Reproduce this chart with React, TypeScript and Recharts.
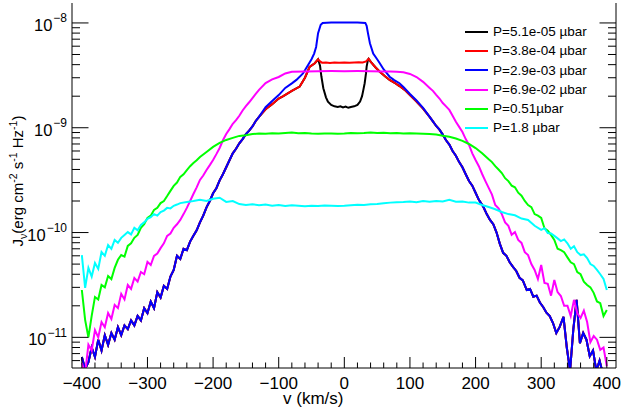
import React from 'react';
import { LineChart, Line, XAxis, YAxis, Legend } from 'recharts';

const FONT = '"Liberation Sans", Arial, Helvetica, sans-serif';

// ---- tick positions / labels ----
const xTicks = [-400, -380, -360, -340, -320, -300, -280, -260, -240, -220, -200, -180, -160, -140, -120, -100, -80, -60, -40, -20, 0, 20, 40, 60, 80, 100, 120, 140, 160, 180, 200, 220, 240, 260, 280, 300, 320, 340, 360, 380, 400];
const xMajor = [-400, -300, -200, -100, 0, 100, 200, 300, 400];
const xMajorText = ['\u2212400', '\u2212300', '\u2212200', '\u2212100', '0', '100', '200', '300', '400'];

const yTicks = [6e-12, 7e-12, 8e-12, 9e-12, 1e-11, 2e-11, 3e-11, 4e-11, 5e-11, 6e-11, 7e-11, 8e-11, 9e-11, 1e-10, 2e-10, 3e-10, 4e-10, 5e-10, 6e-10, 7e-10, 8e-10, 9e-10, 1e-9, 2e-9, 3e-9, 4e-9, 5e-9, 6e-9, 7e-9, 8e-9, 9e-9, 1e-8];
const yMajor = [1e-11, 1e-10, 1e-9, 1e-8];
const yMajorExp = ['\u221211', '\u221210', '\u22129', '\u22128'];

const seriesNames = ['P=5.1e-05 \u00b5bar', 'P=3.8e-04 \u00b5bar', 'P=2.9e-03 \u00b5bar', 'P=6.9e-02 \u00b5bar', 'P=0.51\u00b5bar', 'P=1.8 \u00b5bar'];
const seriesColors = ['#000000', '#ff0000', '#0000ff', '#ff00ff', '#00ff00', '#00ffff'];

// ---- data: [v (km/s), J] ----
// wings shared by the three lowest-pressure curves (they overlap)
const wingLeft: [number, number][] = [
  [-400, 6.5e-12], [-395, 5.0e-12], [-390, 5.8e-12], [-385, 8.0e-12], [-380, 6.5e-12], [-375, 9.5e-12], [-370, 7.5e-12], [-365, 1.05e-11], [-360, 8.5e-12], [-355, 1.1e-11],
  [-350, 9.5e-12], [-345, 1.25e-11], [-340, 1.05e-11], [-335, 1.3e-11], [-330, 1.2e-11], [-325, 1.45e-11], [-320, 1.3e-11], [-315, 1.6e-11], [-310, 1.45e-11], [-305, 1.9e-11],
  [-300, 1.7e-11], [-295, 2.2e-11], [-290, 1.9e-11], [-285, 2.7e-11], [-280, 2.4e-11], [-275, 3.1e-11], [-270, 2.9e-11], [-265, 3.8e-11], [-260, 4.4e-11], [-255, 6.0e-11],
  [-250, 5.6e-11], [-245, 7.0e-11], [-240, 6.8e-11], [-235, 8.2e-11], [-230, 9.3e-11], [-225, 1.05e-10], [-220, 1.25e-10], [-215, 1.45e-10], [-210, 1.74e-10], [-205, 2.0e-10],
  [-200, 2.37e-10], [-195, 2.65e-10], [-190, 3.15e-10], [-185, 3.6e-10], [-180, 4.2e-10], [-175, 4.9e-10], [-170, 5.7e-10], [-165, 6.3e-10], [-160, 7.1e-10], [-155, 7.8e-10],
  [-150, 8.7e-10], [-145, 9.4e-10], [-140, 1.03e-9], [-135, 1.16e-9], [-130, 1.27e-9],
];
const wingRight: [number, number][] = [
  [130, 1.27e-9], [135, 1.15e-9], [140, 1.04e-9], [145, 9.6e-10], [150, 8.6e-10], [155, 7.6e-10], [160, 6.9e-10], [165, 6.0e-10], [170, 5.4e-10], [175, 4.7e-10],
  [180, 4.2e-10], [185, 3.6e-10], [190, 3.1e-10], [195, 2.8e-10], [200, 2.4e-10], [205, 2.05e-10], [212, 1.75e-10], [217, 1.5e-10], [222, 1.32e-10], [227, 1.2e-10],
  [232, 1.0e-10], [237, 7.8e-11], [242, 6.4e-11], [247, 6.0e-11], [252, 5.2e-11], [257, 4.7e-11], [262, 4.3e-11], [267, 3.7e-11], [272, 3.5e-11], [278, 2.83e-11],
  [283, 2.9e-11], [288, 2.44e-11], [293, 2.5e-11], [298, 2.15e-11], [303, 1.95e-11], [308, 1.72e-11], [313, 1.6e-11], [318, 1.37e-11], [323, 1.1e-11], [328, 1.25e-11],
  [334, 1.57e-11], [339, 8.0e-12], [344, 4.8e-12], [349, 1.2e-11], [354, 2.28e-11], [359, 8.8e-12], [364, 1.1e-11], [369, 9.5e-12], [374, 6.6e-12], [379, 7.5e-12],
  [384, 4.8e-12], [389, 6.0e-12], [394, 4.5e-12], [400, 5.0e-12],
];

const blackCore: [number, number][] = [
  [-120, 1.5e-9], [-110, 1.68e-9], [-100, 1.9e-9], [-93, 2.0e-9], [-80, 2.25e-9], [-68, 2.47e-9], [-60, 3.0e-9], [-53, 3.8e-9], [-45, 4.13e-9], [-40, 4.5e-9],
  [-37, 3.9e-9], [-35, 3.1e-9], [-32, 2.38e-9], [-28, 1.95e-9], [-25, 1.77e-9], [-20, 1.65e-9], [-15, 1.6e-9], [-10, 1.58e-9], [-6, 1.6e-9], [-2, 1.56e-9],
  [2, 1.59e-9], [6, 1.55e-9], [10, 1.58e-9], [15, 1.6e-9], [20, 1.65e-9], [24, 1.78e-9], [27, 2.0e-9], [29, 2.3e-9], [31, 2.66e-9], [33, 3.3e-9],
  [34, 3.83e-9], [36, 4.44e-9], [37, 4.55e-9], [40, 4.27e-9], [47, 3.8e-9], [54, 3.43e-9], [62, 3.1e-9], [69, 2.86e-9], [76, 2.7e-9], [84, 2.5e-9],
  [92, 2.3e-9], [100, 2.05e-9], [110, 1.78e-9], [120, 1.52e-9],
];
const redCore: [number, number][] = [
  [-120, 1.5e-9], [-110, 1.68e-9], [-100, 1.9e-9], [-93, 2.0e-9], [-80, 2.25e-9], [-68, 2.47e-9], [-60, 3.0e-9], [-53, 3.8e-9], [-45, 4.13e-9], [-40, 4.5e-9],
  [-37, 4.3e-9], [-34, 4.18e-9], [-28, 4.2e-9], [-22, 4.15e-9], [-15, 4.2e-9], [-8, 4.17e-9], [0, 4.2e-9], [8, 4.16e-9], [15, 4.2e-9], [22, 4.22e-9],
  [28, 4.2e-9], [33, 4.3e-9], [37, 4.55e-9], [40, 4.27e-9], [47, 3.8e-9], [54, 3.43e-9], [62, 3.1e-9], [69, 2.86e-9], [76, 2.7e-9], [84, 2.5e-9],
  [92, 2.3e-9], [100, 2.05e-9], [110, 1.78e-9], [120, 1.52e-9],
];
const blueCore: [number, number][] = [
  [-120, 1.57e-9], [-110, 1.8e-9], [-100, 2.05e-9], [-90, 2.4e-9], [-80, 2.65e-9], [-73, 2.86e-9], [-63, 3.3e-9], [-55, 4.0e-9], [-50, 4.5e-9], [-46, 5.1e-9],
  [-43, 5.9e-9], [-40, 8.0e-9], [-36, 9.6e-9], [-33, 1.0e-8], [-20, 1.01e-8], [0, 1.01e-8], [20, 1.01e-8], [32, 1.0e-8], [34, 9.4e-9], [36, 8.0e-9],
  [39, 6.4e-9], [44, 5.1e-9], [50, 4.5e-9], [54, 4.13e-9], [60, 3.6e-9], [69, 3.07e-9], [76, 2.85e-9], [84, 2.66e-9], [90, 2.45e-9], [100, 2.1e-9],
  [110, 1.82e-9], [120, 1.55e-9],
];

const magenta: [number, number][] = [
  [-400, 5.7e-12], [-395, 4.5e-12], [-390, 8.5e-12], [-385, 7.5e-12], [-380, 1.17e-11], [-375, 1.0e-11], [-370, 1.4e-11], [-365, 1.25e-11], [-360, 1.71e-11], [-355, 1.5e-11],
  [-350, 2.04e-11], [-345, 1.9e-11], [-340, 2.6e-11], [-335, 2.3e-11], [-330, 3.16e-11], [-325, 2.9e-11], [-320, 3.69e-11], [-315, 3.4e-11], [-310, 4.2e-11], [-305, 4.0e-11],
  [-300, 5.25e-11], [-295, 4.9e-11], [-290, 5.98e-11], [-285, 6.3e-11], [-280, 7.1e-11], [-275, 7.9e-11], [-270, 9.3e-11], [-265, 9.8e-11], [-260, 1.11e-10], [-255, 1.2e-10],
  [-250, 1.32e-10], [-245, 1.5e-10], [-240, 1.72e-10], [-235, 2.0e-10], [-230, 2.33e-10], [-225, 2.7e-10], [-220, 3.18e-10], [-215, 3.5e-10], [-210, 3.95e-10], [-205, 4.4e-10],
  [-200, 4.93e-10], [-195, 5.6e-10], [-190, 6.41e-10], [-185, 7.6e-10], [-180, 8.73e-10], [-175, 9.7e-10], [-170, 1.09e-9], [-165, 1.18e-9], [-160, 1.3e-9], [-155, 1.46e-9],
  [-150, 1.61e-9], [-145, 1.75e-9], [-140, 1.92e-9], [-135, 2.1e-9], [-130, 2.3e-9], [-120, 2.67e-9], [-110, 2.9e-9], [-100, 3.05e-9], [-90, 3.3e-9],
  [-80, 3.42e-9], [-60, 3.44e-9], [-40, 3.46e-9], [-20, 3.47e-9], [0, 3.46e-9], [20, 3.47e-9], [40, 3.46e-9], [60, 3.45e-9], [70, 3.44e-9], [80, 3.43e-9],
  [90, 3.38e-9], [100, 3.26e-9], [110, 3.05e-9], [120, 2.74e-9], [130, 2.4e-9], [135, 2.25e-9], [140, 2.06e-9], [145, 1.9e-9], [150, 1.72e-9], [155, 1.6e-9],
  [160, 1.48e-9], [165, 1.3e-9], [170, 1.14e-9], [175, 1.02e-9], [180, 9.1e-10], [185, 7.8e-10], [190, 6.86e-10], [195, 5.7e-10], [200, 4.93e-10], [205, 4.3e-10],
  [210, 3.62e-10], [215, 3.1e-10], [220, 2.67e-10], [225, 2.3e-10], [230, 1.83e-10], [235, 1.7e-10], [240, 1.5e-10], [245, 1.25e-10], [250, 1.16e-10],
  [255, 9.5e-11], [260, 1.01e-10], [265, 8.5e-11], [270, 7.96e-11], [275, 6.5e-11], [280, 6.1e-11], [285, 5.0e-11], [290, 4.4e-11], [295, 3.6e-11], [300, 4.9e-11],
  [305, 3.3e-11], [310, 3.24e-11], [315, 2.5e-11], [320, 3.53e-11], [325, 2.7e-11], [330, 2.48e-11], [335, 2.0e-11], [340, 2.0e-11], [345, 1.6e-11], [350, 2.28e-11],
  [355, 1.7e-11], [360, 1.53e-11], [365, 1.8e-11], [370, 1.4e-11], [375, 9.0e-12], [380, 1.03e-11], [385, 9.5e-12], [390, 7.6e-12], [395, 8.0e-12], [400, 5.3e-12],
];

const green: [number, number][] = [
  [-400, 2.83e-11], [-395, 1.47e-11], [-390, 1.0e-11], [-385, 1.6e-11], [-380, 2.43e-11], [-375, 2.3e-11], [-370, 3.16e-11], [-365, 3.0e-11], [-360, 3.85e-11], [-355, 3.6e-11],
  [-350, 4.6e-11], [-345, 5.5e-11], [-340, 6.1e-11], [-335, 5.9e-11], [-330, 7.45e-11], [-325, 7.9e-11], [-320, 8.9e-11], [-315, 9.5e-11], [-310, 1.11e-10], [-305, 1.2e-10],
  [-300, 1.38e-10], [-295, 1.45e-10], [-290, 1.64e-10], [-285, 1.72e-10], [-280, 1.91e-10], [-275, 2.0e-10], [-270, 2.23e-10], [-265, 2.5e-10], [-260, 2.79e-10], [-255, 3.0e-10],
  [-250, 3.4e-10], [-245, 3.6e-10], [-240, 3.95e-10], [-235, 4.3e-10], [-230, 4.61e-10], [-225, 4.9e-10], [-220, 5.26e-10], [-210, 5.87e-10], [-200, 6.56e-10], [-190, 7.16e-10],
  [-180, 7.65e-10], [-170, 8.0e-10], [-160, 8.36e-10], [-150, 8.5e-10], [-140, 8.7e-10], [-130, 8.8e-10],
  [-120, 8.75e-10], [-110, 8.85e-10], [-100, 8.8e-10], [-90, 8.9e-10], [-80, 9.0e-10], [-70, 8.85e-10], [-60, 8.9e-10], [-50, 8.8e-10], [-40, 8.75e-10], [-30, 8.8e-10],
  [-20, 8.8e-10], [-10, 8.75e-10], [0, 8.8e-10], [10, 8.9e-10], [20, 8.85e-10], [30, 8.9e-10], [40, 9.0e-10], [50, 8.9e-10], [60, 8.95e-10], [70, 8.85e-10],
  [80, 8.9e-10], [90, 8.8e-10], [100, 8.85e-10], [110, 8.8e-10], [120, 8.75e-10], [130, 8.7e-10], [140, 8.6e-10], [150, 8.4e-10], [160, 8.2e-10], [170, 7.9e-10],
  [180, 7.5e-10], [190, 7.0e-10], [200, 6.4e-10], [210, 5.7e-10], [220, 5.0e-10], [225, 4.7e-10], [230, 4.3e-10], [235, 4.0e-10], [240, 3.7e-10], [245, 3.3e-10],
  [250, 3.1e-10], [255, 2.8e-10], [260, 2.7e-10], [265, 2.4e-10], [270, 2.25e-10],
  [275, 2.0e-10], [280, 1.83e-10], [285, 1.75e-10], [290, 1.5e-10], [295, 1.45e-10], [300, 1.38e-10], [305, 1.1e-10], [310, 1.04e-10], [315, 9.5e-11], [320, 8.5e-11],
  [325, 7.0e-11], [330, 6.8e-11], [335, 6.5e-11], [340, 5.8e-11], [345, 5.2e-11], [350, 5.0e-11], [355, 4.2e-11], [360, 4.0e-11], [365, 3.4e-11], [370, 3.16e-11],
  [375, 3.0e-11], [380, 2.66e-11], [385, 2.2e-11], [390, 2.12e-11], [395, 1.6e-11], [400, 1.82e-11],
];

const cyan: [number, number][] = [
  [-400, 6.1e-11], [-395, 2.96e-11], [-390, 4.6e-11], [-385, 3.8e-11], [-380, 5.13e-11], [-375, 4.5e-11], [-370, 6.53e-11], [-365, 6.0e-11], [-360, 7.6e-11], [-355, 7.0e-11],
  [-350, 8.5e-11], [-345, 8.0e-11], [-340, 8.9e-11], [-335, 9.5e-11], [-330, 1.01e-10], [-325, 9.6e-11], [-320, 1.11e-10], [-315, 1.05e-10], [-310, 1.18e-10], [-305, 1.25e-10],
  [-300, 1.35e-10], [-295, 1.4e-10], [-290, 1.5e-10], [-285, 1.45e-10], [-280, 1.57e-10], [-275, 1.62e-10], [-270, 1.72e-10], [-265, 1.7e-10], [-260, 1.8e-10], [-255, 1.85e-10],
  [-250, 1.91e-10], [-240, 1.96e-10], [-230, 2.0e-10],
  [-220, 2.05e-10], [-210, 2.0e-10], [-200, 2.1e-10], [-190, 2.15e-10], [-180, 1.96e-10], [-170, 2.0e-10], [-160, 1.87e-10], [-150, 1.83e-10], [-140, 1.86e-10], [-130, 1.82e-10],
  [-120, 1.85e-10], [-110, 1.8e-10], [-100, 1.83e-10], [-90, 1.79e-10], [-80, 1.82e-10], [-70, 1.8e-10], [-60, 1.78e-10], [-50, 1.8e-10], [-40, 1.79e-10], [-30, 1.81e-10],
  [-20, 1.8e-10], [-10, 1.79e-10], [0, 1.8e-10], [10, 1.82e-10], [20, 1.84e-10], [30, 1.83e-10], [40, 1.86e-10], [50, 1.87e-10], [60, 1.9e-10], [70, 1.93e-10],
  [80, 1.95e-10], [90, 1.96e-10], [100, 1.98e-10], [110, 1.95e-10], [120, 2.0e-10], [130, 1.97e-10], [140, 2.0e-10], [150, 1.98e-10], [160, 2.05e-10], [170, 1.97e-10],
  [180, 1.98e-10], [190, 1.93e-10], [200, 1.93e-10], [210, 1.83e-10], [220, 1.75e-10], [230, 1.67e-10], [240, 1.57e-10], [250, 1.5e-10], [260, 1.46e-10], [270, 1.36e-10],
  [280, 1.32e-10], [290, 1.16e-10], [300, 1.06e-10], [305, 1.1e-10], [310, 9.9e-11], [315, 9.8e-11], [320, 9.3e-11], [325, 8.8e-11], [330, 8.3e-11], [335, 8.6e-11],
  [340, 7.9e-11], [345, 7.0e-11], [350, 7.4e-11], [355, 6.5e-11], [360, 6.1e-11], [365, 6.2e-11], [370, 5.7e-11], [375, 5.0e-11], [380, 4.8e-11], [385, 4.4e-11],
  [390, 4.0e-11], [395, 3.6e-11], [400, 2.83e-11],
];

const toRows = (pts: [number, number][]) => pts.map(([v, j]) => ({ v, j }));

const seriesData = [
  toRows([...wingLeft, ...blackCore, ...wingRight]),
  toRows([...wingLeft, ...redCore, ...wingRight]),
  toRows([...wingLeft, ...blueCore, ...wingRight]),
  toRows(magenta),
  toRows(green),
  toRows(cyan),
];

const X_DOMAIN: [number, number] = [-415, 414];
const Y_DOMAIN: [number, number] = [5.1e-12, 1.55e-8];

const XTick = (p: any) => {
  const { x, y, payload } = p;
  const idx = xMajor.indexOf(payload.value);
  const len = idx >= 0 ? 11 : 5.5;
  return (
    <g>
      <line x1={x} x2={x} y1={y} y2={y - len} stroke="#000" strokeWidth={1} />
      {idx >= 0 && (
        <text x={x} y={y + 21} textAnchor="middle" fontFamily={FONT} fontSize={17} fill="#000">
          {xMajorText[idx]}
        </text>
      )}
    </g>
  );
};

const YTickLeft = (p: any) => {
  const { x, y, payload } = p;
  const idx = yMajor.indexOf(payload.value);
  const len = idx >= 0 ? 16.5 : 8;
  return (
    <g>
      <line x1={x} x2={x + len} y1={y} y2={y} stroke="#000" strokeWidth={1} />
      {idx >= 0 && (
        <text x={x - 5} y={y + 8} textAnchor="end" fontFamily={FONT} fontSize={16.5} fill="#000">
          10
          <tspan dx={1} dy={-8.5} fontSize={12}>{yMajorExp[idx]}</tspan>
        </text>
      )}
    </g>
  );
};

const YTickRight = (p: any) => {
  const { x, y, payload } = p;
  const idx = yMajor.indexOf(payload.value);
  const len = idx >= 0 ? 16.5 : 8;
  return <line x1={x} x2={x - len} y1={y} y2={y} stroke="#000" strokeWidth={1} />;
};

const LegendBox = (props: any) => {
  const items = seriesNames
    .map((n) => (props.payload || []).find((e: any) => e.value === n))
    .filter(Boolean);
  return (
    <div style={{ fontFamily: FONT, fontSize: 13.5, color: '#000' }}>
      {items.map((e: any) => (
        <div key={e.value} style={{ display: 'flex', alignItems: 'center', height: 19.3 }}>
          <svg width={23} height={4} style={{ marginRight: 5, display: 'block' }}>
            <line x1={0} x2={23} y1={2} y2={2} stroke={e.color} strokeWidth={2} />
          </svg>
          <span style={{ lineHeight: '19.3px', whiteSpace: 'nowrap' }}>{e.value}</span>
        </div>
      ))}
    </div>
  );
};

const YTitle = () => (
  <text transform="translate(23,181) rotate(-90)" textAnchor="middle" fontFamily={FONT} fontSize={15} fill="#000">
    J<tspan dy={3.5} fontSize={10.5}>{'\u03bd'}</tspan>
    <tspan dy={-3.5}>(erg cm</tspan>
    <tspan dy={-6.5} fontSize={10.5}>-2</tspan>
    <tspan dy={6.5}> s</tspan>
    <tspan dy={-6.5} fontSize={10.5}>-1</tspan>
    <tspan dy={6.5}> Hz</tspan>
    <tspan dy={-6.5} fontSize={10.5}>-1</tspan>
    <tspan dy={6.5}>)</tspan>
  </text>
);

const XTitle = () => (
  <text x={283} y={404} fontFamily={FONT} fontSize={17} fill="#000">
    v (km/s)
  </text>
);

export default function App() {
  return (
    <div style={{ position: 'absolute', left: 0, top: 0, background: '#fff' }}>
      <LineChart width={621} height={412} margin={{ top: 3, right: 0, bottom: 0, left: 0 }}>
        <XAxis
          xAxisId="b"
          dataKey="v"
          type="number"
          domain={X_DOMAIN}
          allowDataOverflow
          ticks={xTicks}
          interval={0}
          tickSize={0}
          tickMargin={0}
          tickLine={false}
          tick={<XTick />}
          height={44}
          axisLine={{ stroke: '#000', strokeWidth: 1 }}
          label={{ content: () => <XTitle /> }}
        />
        <XAxis
          xAxisId="t"
          orientation="top"
          dataKey="v"
          type="number"
          domain={X_DOMAIN}
          allowDataOverflow
          height={0}
          tick={false}
          tickLine={false}
          axisLine={{ stroke: '#000', strokeWidth: 1 }}
        />
        <YAxis
          yAxisId="l"
          scale="log"
          type="number"
          domain={Y_DOMAIN}
          allowDataOverflow
          ticks={yTicks}
          interval={0}
          tickSize={0}
          tickMargin={0}
          tickLine={false}
          tick={<YTickLeft />}
          width={72}
          axisLine={{ stroke: '#000', strokeWidth: 1 }}
          label={{ content: () => <YTitle /> }}
        />
        <YAxis
          yAxisId="r"
          orientation="right"
          scale="log"
          type="number"
          domain={Y_DOMAIN}
          allowDataOverflow
          ticks={yTicks}
          interval={0}
          tickSize={0}
          tickMargin={0}
          tickLine={false}
          tick={<YTickRight />}
          width={5}
          axisLine={{ stroke: '#000', strokeWidth: 1 }}
        />
        <Legend
          layout="vertical"
          align="center"
          verticalAlign="middle"
          wrapperStyle={{ position: 'absolute', left: 465, top: 22, width: 150, height: 120 }}
          content={<LegendBox />}
        />
        {seriesData.map((d, i) => (
          <Line
            key={seriesNames[i]}
            xAxisId="b"
            yAxisId="l"
            data={d}
            dataKey="j"
            name={seriesNames[i]}
            type="linear"
            stroke={seriesColors[i]}
            strokeWidth={2}
            dot={false}
            activeDot={false}
            isAnimationActive={false}
          />
        ))}
      </LineChart>
    </div>
  );
}
